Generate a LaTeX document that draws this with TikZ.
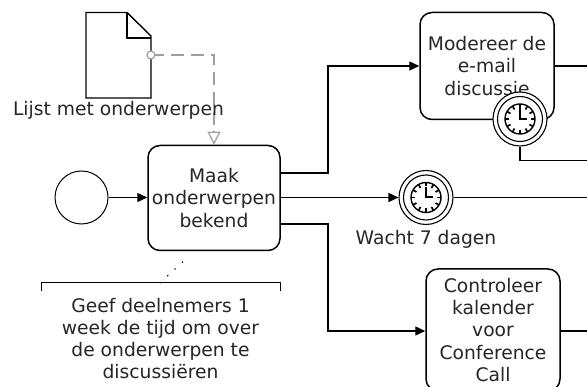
\documentclass[tikz,border=0pt]{standalone}
\usepackage{fontspec}
\setmainfont{DejaVu Sans}
\usetikzlibrary{arrows.meta}

% Clock drawn inside a timer event
\newcommand{\klok}[1]{
    \draw[line width=1.4pt] (#1) circle (15);
    \foreach \a in {0,30,...,330}
        \draw[line width=1.7pt] ([shift={(\a:11)}]#1) -- ([shift={(\a:15)}]#1);
    \draw[line width=2pt] ([shift={(270:10.5)}]#1) -- (#1) -- ([shift={(0:7)}]#1);
}

\begin{document}
\begin{tikzpicture}[x=1pt, y=-1pt, font=\fontsize{18.7}{22.3}\selectfont, text=black!85,
    taak/.style={draw, line width=1.5pt, rounded corners=12pt, fill=white, align=center, inner sep=0pt},
    timer/.style={circle, draw, line width=1.1pt, fill=white, inner sep=0pt, minimum size=54pt},
    timerin/.style={circle, draw, line width=1.1pt, fill=white, inner sep=0pt, minimum size=45pt},
    flow/.style={line width=1.4pt, -{Triangle[length=10pt,width=9pt]}},
    lijn/.style={line width=1.4pt},
    data/.style={dash pattern=on 13pt off 7pt, line width=1.3pt, black!38},
    tekst/.style={align=center, inner sep=0pt}]

    \useasboundingbox (0,0) rectangle (587,387);
    \fill[white] (0,0) rectangle (587,387);

    % --- Document with association ---
    \coordinate (D1) at (86,12.5);
    \coordinate (D2) at (127,12.5);
    \coordinate (D3) at (151,36);
    \coordinate (D4) at (151,98);
    \coordinate (D5) at (86,98);
    \coordinate (D6) at (127,38);
    \coordinate (D7) at (151,38);
    \draw[line width=1.4pt] (D1) -- (D2) -- (D3) -- (D4) -- (D5) -- cycle;
    \draw[line width=1.4pt] (D2) -- (D6) -- (D7);

    % --- Tasks ---
    \node[taak, minimum width=132pt, minimum height=105pt] (maak) at (214,198) {Maak\\onderwerpen\\bekend};
    \node[taak, minimum width=134pt, minimum height=107pt] (modereer) at (487,66) {Modereer de\\e-mail\\discussie};
    \node[taak, minimum width=134pt, minimum height=122pt] (controleer) at (493,330) {Controleer\\kalender\\voor\\Conference\\Call};

    % --- Events ---
    \node[circle, draw, line width=1pt, inner sep=0pt, minimum size=53pt] (start) at (81.5,197.5) {};
    \node[timer] (wacht) at (426,197.5) {};
    \node[timerin] at (426,197.5) {};
    \klok{426,197.5}
    \node[timer] (grens) at (520,119) {};
    \node[timerin] at (520,119) {};
    \klok{520,119}

    % --- Free ends and bends ---
    \coordinate (M1) at (328,173);
    \coordinate (M2) at (328,224);
    \coordinate (Uit1) at (587,66);
    \coordinate (Uit2) at (587,160.5);
    \coordinate (Uit3) at (587,197.5);
    \coordinate (Uit4) at (587,331);
    \coordinate (G1) at (520,160.5);
    \coordinate (A1) at (214,55);
    \coordinate (Doc) at (151,55);

    % --- Flows ---
    \draw[flow] (start) -- (maak.west |- start);
    \draw[flow] ([yshift=25pt]maak.east) -- (M1) |- (modereer);
    \draw[flow] (maak.east |- wacht) -- (wacht);
    \draw[flow] ([yshift=-26pt]maak.east) -- (M2) |- (controleer.west |- Uit4);
    \draw[lijn] (modereer.east |- Uit1) -- (Uit1);
    \draw[lijn] (grens) -- (G1) -- (Uit2);
    \draw[lijn] (wacht) -- (Uit3);
    \draw[lijn] (controleer.east |- Uit4) -- (Uit4);

    % --- Association ---
    \draw[data] (Doc) -- (A1) -- ([yshift=13pt]maak.north);
    \draw[line width=1.2pt, black!38, -{Triangle[open,length=13pt,width=13pt]}] ([yshift=14pt]maak.north) -- (maak.north);
    \draw[line width=1.2pt, black!38, fill=white] (Doc) circle (4);

    % --- Annotation ---
    \coordinate (N1) at (41.5,291.5);
    \coordinate (N2) at (41.5,283);
    \coordinate (N3) at (280,283);
    \coordinate (N4) at (280,291.5);
    \coordinate (N5) at (160,283);
    \coordinate (N6) at (189,256);
    \draw[line width=1pt] (N1) -- (N2) -- (N3) -- (N4);
    \draw[line width=1.2pt, dash pattern=on 1.2pt off 8.8pt] (N5) -- (N6);

    % --- Labels ---
    \node[tekst] (lijst) at (118.5,110.5) {Lijst met onderwerpen};
    \node[tekst] (wachttekst) at (426,239) {Wacht 7 dagen};
    \node[tekst] (noot) at (160.5,338.5) {Geef deelnemers 1\\week de tijd om over\\de onderwerpen te\\discussiëren};

\end{tikzpicture}
\end{document}
